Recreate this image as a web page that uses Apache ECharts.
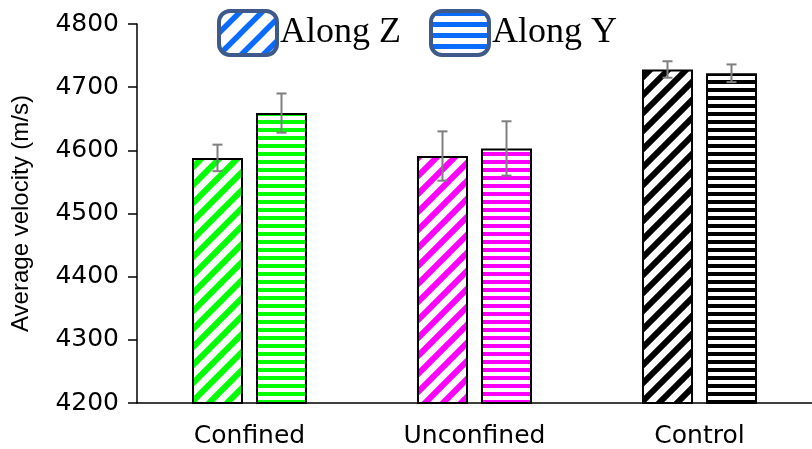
<!DOCTYPE html>
<html><head><meta charset="utf-8">
<script src="https://cdn.jsdelivr.net/npm/echarts@6/dist/echarts.min.js"></script>
<style>html,body{margin:0;padding:0;background:#fff}#c{width:812px;height:449px}</style>
</head><body><div id="c"></div>
<script>
const categories = ['Confined', 'Unconfined', 'Control'];
const seriesNames = ['Along Z', 'Along Y'];
const alongZ = [4588, 4591, 4728];
const alongY = [4659, 4603, 4722];
const errZ = [21, 39, 13];
const errY = [31, 43, 14];
const catColors = ['#00ff00', '#ff00ff', '#000000'];
const yTicks = [4200, 4300, 4400, 4500, 4600, 4700, 4800];

function pattern(color, type, s, lw) {
  const c = document.createElement('canvas');
  c.width = s; c.height = s;
  const g = c.getContext('2d');
  g.fillStyle = '#fff'; g.fillRect(0, 0, s, s);
  g.strokeStyle = color; g.fillStyle = color;
  if (type === 'diag') {
    g.lineWidth = lw;
    for (let k = -1; k <= 1; k++) {
      g.beginPath(); g.moveTo(k * s - s, 2 * s); g.lineTo(k * s + 2 * s, -s); g.stroke();
    }
  } else {
    g.fillRect(0, 0, s, lw);
  }
  return { image: c, repeat: 'repeat' };
}

const BW = 51, GAP = 13;
const off = (BW + GAP) / 2;

function barData(vals, type) {
  return vals.map((v, i) => ({
    value: v,
    itemStyle: { color: type === 'diag' ? pattern(catColors[i], 'diag', 18, 6) : pattern(catColors[i], 'h', 8, 4), borderColor: '#000', borderWidth: 2 }
  }));
}

function errSeries(vals, errs, sign) {
  return {
    type: 'custom', z: 10, silent: true,
    data: vals.map((v, i) => [i, v, errs[i]]),
    renderItem: function (params, api) {
      const i = api.value(0), v = api.value(1), e = api.value(2);
      const top = api.coord([i, v + e]);
      const bot = api.coord([i, v - e]);
      const x = top[0] + sign * off;
      const w = 5;
      const st = { stroke: '#7f7f7f', lineWidth: 2 };
      return { type: 'group', children: [
        { type: 'line', shape: { x1: x, y1: top[1], x2: x, y2: bot[1] }, style: st },
        { type: 'line', shape: { x1: x - w, y1: top[1], x2: x + w, y2: top[1] }, style: st },
        { type: 'line', shape: { x1: x - w, y1: bot[1], x2: x + w, y2: bot[1] }, style: st }
      ]};
    }
  };
}

const chart = echarts.init(document.getElementById('c'));
const legZ = pattern('#0a6cff', 'diag', 22, 5.5);
const legY = pattern('#0a6cff', 'h', 11, 5);
chart.setOption({
  animation: false,
  grid: { left: 137, right: -12, top: 24, bottom: 46 },
  legend: {
    left: 217, top: 9, padding: 0, itemWidth: 58, itemHeight: 44, itemGap: 28,
    icon: 'roundRect',
    textStyle: { fontFamily: 'Liberation Serif', fontSize: 36, color: '#000', padding: [0, 0, 0, -2] },
    data: [
      { name: seriesNames[0], itemStyle: { color: legZ, borderColor: '#3d5a8a', borderWidth: 4 } },
      { name: seriesNames[1], itemStyle: { color: legY, borderColor: '#3d5a8a', borderWidth: 4 } }
    ]
  },
  xAxis: {
    type: 'category', data: categories,
    axisLine: { lineStyle: { color: '#000', width: 1.5 } },
    axisTick: { show: false },
    axisLabel: { color: '#000', fontFamily: 'DejaVu Sans', fontSize: 25, margin: 21 }
  },
  yAxis: {
    type: 'value', min: yTicks[0], max: yTicks[yTicks.length - 1], interval: 100,
    name: 'Average velocity (m/s)', nameLocation: 'middle', nameGap: 104,
    nameTextStyle: { color: '#000', fontFamily: 'Liberation Sans', fontSize: 24 },
    axisLine: { show: true, lineStyle: { color: '#000', width: 1.5 } },
    axisTick: { show: true, length: 9, lineStyle: { color: '#000', width: 1.5 } },
    splitLine: { show: false },
    axisLabel: { color: '#000', fontFamily: 'DejaVu Sans', fontSize: 25, margin: 18, formatter: v => String(v) }
  },
  series: [
    { name: seriesNames[0], type: 'bar', barWidth: BW, barGap: (GAP / BW * 100) + '%', data: barData(alongZ, 'diag'), itemStyle: { color: legZ } },
    { name: seriesNames[1], type: 'bar', barWidth: BW, data: barData(alongY, 'h'), itemStyle: { color: legY } },
    errSeries(alongZ, errZ, -1),
    errSeries(alongY, errY, 1)
  ]
});
</script></body></html>
